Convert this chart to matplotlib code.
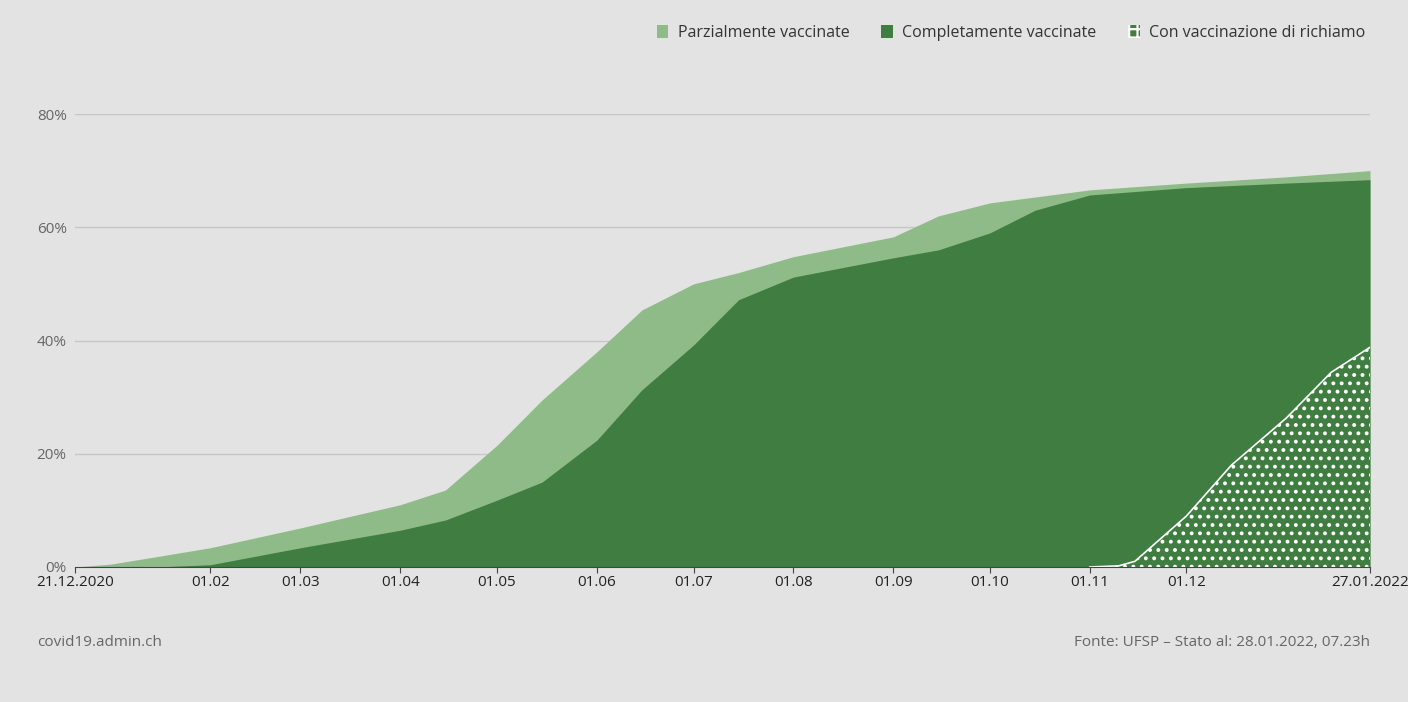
import matplotlib
matplotlib.use("Agg")
import matplotlib.pyplot as plt
import matplotlib.dates as mdates
import numpy as np
import pandas as pd

plt.rcParams["font.family"] = ["Open Sans", "DejaVu Sans"]
plt.rcParams["hatch.linewidth"] = 1.6

# share of population (%)
partial_dates = ["2020-12-21", "2021-01-01", "2021-01-15", "2021-02-01", "2021-03-01", "2021-04-01",
                 "2021-04-15", "2021-05-01", "2021-05-15", "2021-06-01", "2021-06-15", "2021-07-01",
                 "2021-07-15", "2021-08-01", "2021-09-01", "2021-09-15", "2021-10-01", "2021-11-01",
                 "2021-12-01", "2022-01-01", "2022-01-27"]
partial_vals = [0, 0.5, 1.8, 3.4, 6.9, 11, 13.6, 21.5, 29.5, 38, 45.4, 50,
                52, 54.8, 58.3, 62, 64.3, 66.6, 67.8, 68.9, 70]

complete_dates = ["2020-12-21", "2021-01-15", "2021-02-01", "2021-03-01", "2021-04-01", "2021-04-15",
                  "2021-05-01", "2021-05-15", "2021-06-01", "2021-06-15", "2021-07-01", "2021-07-15",
                  "2021-08-01", "2021-09-01", "2021-09-15", "2021-10-01", "2021-10-15", "2021-11-01",
                  "2021-12-01", "2022-01-01", "2022-01-27"]
complete_vals = [0, 0, 0.4, 3.4, 6.5, 8.3, 11.8, 15, 22.4, 31.3, 39.2, 47.2,
                 51.2, 54.6, 56, 59, 63, 65.7, 67, 67.8, 68.4]

booster_dates = ["2020-12-21", "2021-11-01", "2021-11-10", "2021-11-15", "2021-12-01",
                 "2021-12-15", "2022-01-01", "2022-01-15", "2022-01-27"]
booster_vals = [0, 0, 0.2, 1, 9, 18, 26.3, 34.4, 38.8]

tick_labels = ["21.12.2020", "01.02", "01.03", "01.04", "01.05", "01.06", "01.07",
               "01.08", "01.09", "01.10", "01.11", "01.12", "27.01.2022"]
tick_dates = ["2020-12-21", "2021-02-01", "2021-03-01", "2021-04-01", "2021-05-01", "2021-06-01",
              "2021-07-01", "2021-08-01", "2021-09-01", "2021-10-01", "2021-11-01", "2021-12-01",
              "2022-01-27"]

BG = "#e3e3e3"
LIGHT = "#8fbb89"
DARK = "#3f7e40"

fig = plt.figure(figsize=(14.08, 7.02), dpi=100, facecolor=BG)
ax = fig.add_axes([75 / 1408, 1 - 567 / 702, 1295 / 1408, 453 / 702 * 1.0])
ax.set_facecolor(BG)

pd_ = pd.to_datetime(partial_dates)
cd_ = pd.to_datetime(complete_dates)
bd_ = pd.to_datetime(booster_dates)

for y in [20, 40, 60, 80]:
    ax.axhline(y, color="#c6c6c6", lw=1, zorder=0)

ax.fill_between(pd_, 0, partial_vals, color=LIGHT, lw=0, zorder=1)
ax.fill_between(cd_, 0, complete_vals, color=DARK, lw=0, zorder=2)
ax.fill_between(bd_, 0, booster_vals, facecolor=DARK, edgecolor="white", hatch="..", lw=0, zorder=3)
ax.plot(bd_[1:], booster_vals[1:], color="white", lw=1.2, zorder=4)

ax.set_xlim(pd_[0], pd_[-1])
ax.set_ylim(0, 80)
ax.set_yticks([0, 20, 40, 60, 80])
ax.set_yticklabels(["0%", "20%", "40%", "60%", "80%"])
ax.yaxis.set_tick_params(length=0, labelsize=11, labelcolor="#666666", pad=6)
ax.set_xticks(pd.to_datetime(tick_dates))
ax.set_xticklabels(tick_labels)
ax.xaxis.set_tick_params(length=4, color="#444444", labelsize=11, labelcolor="#222222", pad=2)
for s in ["top", "right", "left"]:
    ax.spines[s].set_visible(False)
ax.spines["bottom"].set_color("#444444")
ax.spines["bottom"].set_zorder(5)

# legend
from matplotlib.patches import Patch
handles = [Patch(facecolor=LIGHT, lw=0), Patch(facecolor=DARK, lw=0),
           Patch(facecolor=DARK, edgecolor="white", hatch="++", lw=0)]
fig.legend(handles, ["Parzialmente vaccinate", "Completamente vaccinate", "Con vaccinazione di richiamo"],
           loc="upper right", bbox_to_anchor=(0.98, 0.985), ncol=3, frameon=False, fontsize=11.5,
           handlelength=0.7, handleheight=0.9, handletextpad=0.6, columnspacing=2.0,
           labelcolor="#333333")

fig.text(37 / 1408, 1 - 643 / 702, "covid19.admin.ch", fontsize=11, color="#666666", va="center")
fig.text(1370 / 1408, 1 - 643 / 702, "Fonte: UFSP – Stato al: 28.01.2022, 07.23h", fontsize=11,
         color="#666666", va="center", ha="right")

fig.savefig("out.png", dpi=100, facecolor=BG)
